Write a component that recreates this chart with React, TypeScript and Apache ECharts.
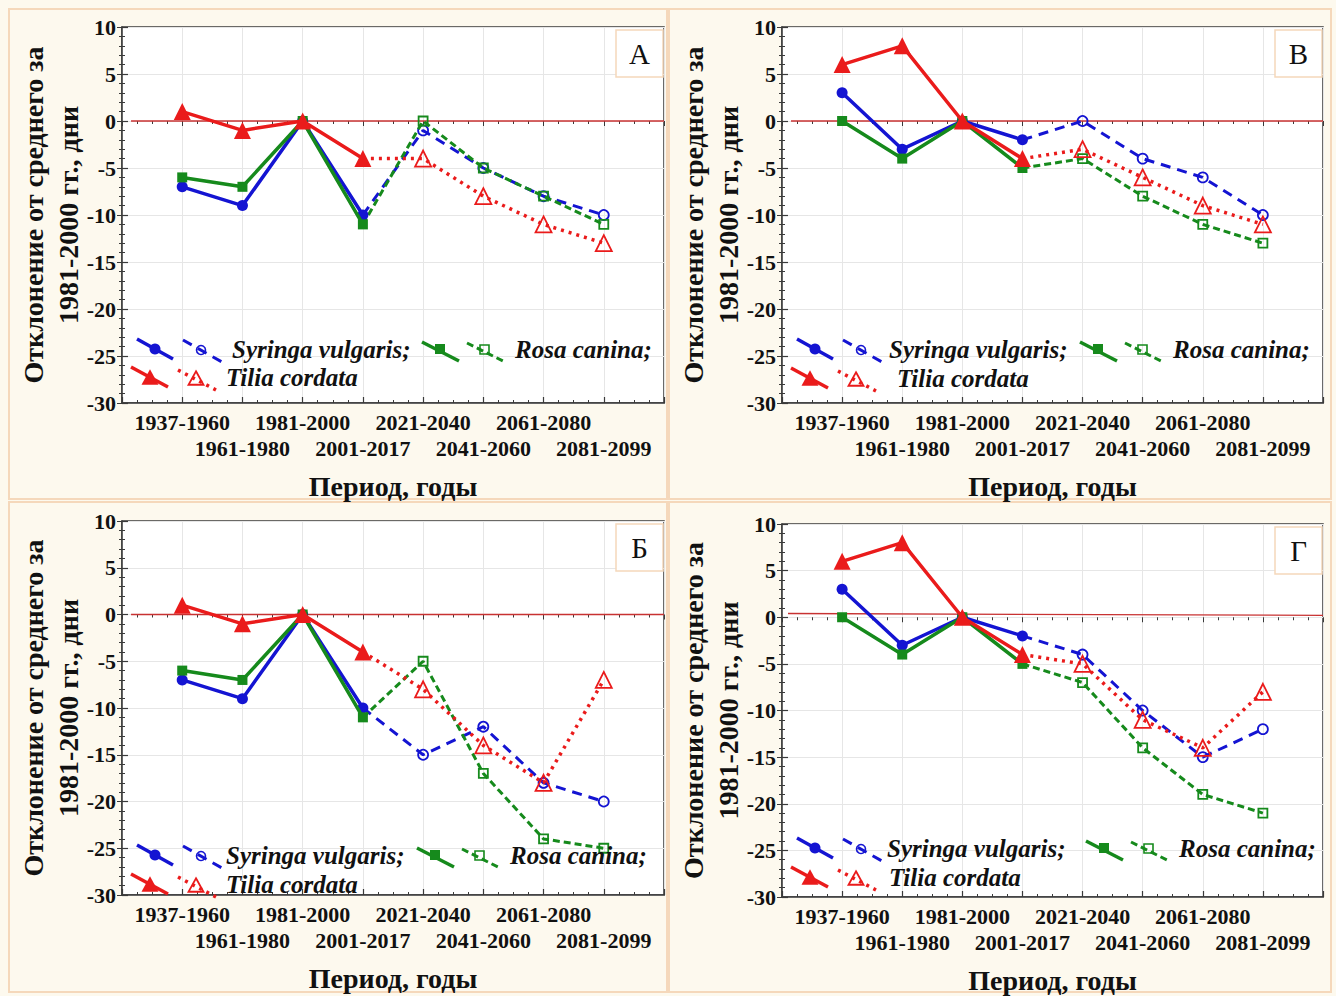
import React, { useEffect, useRef } from "react";
import * as echarts from "echarts";

// Periods along the horizontal axis
const periods = [
  "1937-1960",
  "1961-1980",
  "1981-2000",
  "2001-2017",
  "2021-2040",
  "2041-2060",
  "2061-2080",
  "2081-2099",
];

const yTicks = [-30, -25, -20, -15, -10, -5, 0, 5, 10];

// Deviation from the 1981-2000 mean, days (panel А)
const syringaA = [-7, -9, 0, -10, -1, -5, -8, -10];
const rosaA = [-6, -7, 0, -11, 0, -5, -8, -11];
const tiliaA = [1, -1, 0, -4, -4, -8, -11, -13];

// Panel В
const syringaB = [3, -3, 0, -2, 0, -4, -6, -10];
const rosaB = [0, -4, 0, -5, -4, -8, -11, -13];
const tiliaB = [6, 8, 0, -4, -3, -6, -9, -11];

// Panel Б
const syringaBe = [-7, -9, 0, -10, -15, -12, -18, -20];
const rosaBe = [-6, -7, 0, -11, -5, -17, -24, -25];
const tiliaBe = [1, -1, 0, -4, -8, -14, -18, -7];

// Panel Г
const syringaG = [3, -3, 0, -2, -4, -10, -15, -12];
const rosaG = [0, -4, 0, -5, -7, -14, -19, -21];
const tiliaG = [6, 8, 0, -4, -5, -11, -14, -8];

// Reference line (x, y) endpoints
const zeroFlat = [
  [0.15, 0],
  [9, 0],
];
const zeroTilted = [
  [0.1, 0.4],
  [9, 0.2],
];

const FONT = '"Liberation Serif", "Times New Roman", serif';
const BLUE = "#1414d2";
const GREEN = "#168a1c";
const RED = "#ea1b1b";
const AXIS = "#3a3a3a";
const BORDER = "#f5d8bb";

const species = [
  { key: "s", color: BLUE, symbol: "circle", size: 11, openSize: 10, dash: [10, 7], dashWidth: 3 },
  { key: "r", color: GREEN, symbol: "rect", size: 10, openSize: 9, dash: [7, 4], dashWidth: 3 },
  { key: "t", color: RED, symbol: "triangle", size: 17, openSize: 16, dash: [3, 5], dashWidth: 3.5 },
];

const panels = [
  {
    letter: "А",
    left: 122, top: 27, width: 542, height: 376,
    data: { s: syringaA, r: rosaA, t: tiliaA },
    zero: zeroFlat,
    leg: { dy1: 322, dy2: 350, sx: 110, rx: 393, tx: 104 },
    frame: { x: 9, y: 9, w: 658, h: 490 },
  },
  {
    letter: "В",
    left: 782, top: 27, width: 541, height: 376,
    data: { s: syringaB, r: rosaB, t: tiliaB },
    zero: zeroFlat,
    leg: { dy1: 322, dy2: 351, sx: 107, rx: 391, tx: 115 },
    frame: { x: 669, y: 9, w: 662, h: 490 },
  },
  {
    letter: "Б",
    left: 122, top: 521, width: 542, height: 374,
    data: { s: syringaBe, r: rosaBe, t: tiliaBe },
    zero: zeroFlat,
    leg: { dy1: 334, dy2: 363, sx: 104, rx: 388, tx: 104 },
    frame: { x: 9, y: 502, w: 658, h: 490 },
  },
  {
    letter: "Г",
    left: 782, top: 524, width: 541, height: 373,
    data: { s: syringaG, r: rosaG, t: tiliaG },
    zero: zeroTilted,
    leg: { dy1: 324, dy2: 353, sx: 105, rx: 397, tx: 107 },
    frame: { x: 669, y: 502, w: 662, h: 490 },
  },
];

function triangle(cx: number, cy: number, s: number) {
  const h = s * 0.9;
  return [
    [cx, cy - h / 2],
    [cx + s / 2, cy + h / 2],
    [cx - s / 2, cy + h / 2],
  ];
}

function legendGraphics(p: any) {
  const L = p.left;
  const y1 = p.top + p.leg.dy1;
  const y2 = p.top + p.leg.dy2;
  const textFont = `italic bold 25px ${FONT}`;
  const z = 50;
  const seg = (x1: number, ya: number, x2: number, yb: number, color: string, w: number, dash?: number[]) => ({
    type: "line",
    z,
    shape: { x1, y1: ya, x2, y2: yb },
    style: { stroke: color, lineWidth: w, lineDash: dash || null },
  });
  return [
    // Syringa vulgaris
    seg(L + 15, y1 - 10, L + 51, y1 + 10, BLUE, 3.5),
    { type: "circle", z: z + 1, shape: { cx: L + 33, cy: y1, r: 5.5 }, style: { fill: BLUE } },
    seg(L + 61, y1 - 9, L + 100, y1 + 13, BLUE, 3, [10, 7]),
    { type: "circle", z: z + 1, shape: { cx: L + 79, cy: y1 + 1, r: 4.5 }, style: { fill: "none", stroke: BLUE, lineWidth: 1.6 } },
    { type: "text", z, x: L + p.leg.sx, y: y1, style: { text: "Syringa vulgaris;", font: textFont, fill: "#111", verticalAlign: "middle" } },
    // Rosa canina
    seg(L + p.leg.rx - 93, y1 - 7, L + p.leg.rx - 56, y1 + 12, GREEN, 3.5),
    { type: "rect", z: z + 1, shape: { x: L + p.leg.rx - 80, y: y1 - 5, width: 10, height: 10 }, style: { fill: GREEN } },
    seg(L + p.leg.rx - 48, y1 - 6, L + p.leg.rx - 10, y1 + 13, GREEN, 3, [7, 4]),
    { type: "rect", z: z + 1, shape: { x: L + p.leg.rx - 35, y: y1 - 4, width: 9, height: 9 }, style: { fill: "none", stroke: GREEN, lineWidth: 1.6 } },
    { type: "text", z, x: L + p.leg.rx, y: y1, style: { text: "Rosa canina;", font: textFont, fill: "#111", verticalAlign: "middle" } },
    // Tilia cordata
    seg(L + 9, y2 - 10, L + 46, y2 + 10, RED, 3.5),
    { type: "polygon", z: z + 1, shape: { points: triangle(L + 28, y2, 17) }, style: { fill: RED } },
    seg(L + 56, y2 - 7, L + 94, y2 + 13, RED, 3.5, [3, 5]),
    { type: "polygon", z: z + 1, shape: { points: triangle(L + 74, y2 + 1, 15) }, style: { fill: "none", stroke: RED, lineWidth: 1.8 } },
    { type: "text", z, x: L + p.leg.tx, y: y2, style: { text: "Tilia cordata", font: textFont, fill: "#111", verticalAlign: "middle" } },
  ];
}

function buildOption() {
  const grid: any[] = [];
  const xAxis: any[] = [];
  const yAxis: any[] = [];
  const series: any[] = [];
  const graphic: any[] = [];

  panels.forEach((p, k) => {
    grid.push({
      left: p.left,
      top: p.top,
      width: p.width,
      height: p.height,
      show: true,
      backgroundColor: "#ffffff",
      borderColor: AXIS,
      borderWidth: 1.5,
    });

    const xLabel = (v: number) => {
      const i = Math.round(v) - 1;
      if (i < 0 || i >= periods.length) return "";
      return i % 2 === 0 ? `{a|${periods[i]}}` : `{b|${periods[i]}}`;
    };
    const labelRich = {
      a: { fontFamily: FONT, fontWeight: "bold", fontSize: 22, color: "#111" },
      b: { fontFamily: FONT, fontWeight: "bold", fontSize: 22, color: "#111", padding: [26, 0, 0, 0] },
    };

    xAxis.push({
      type: "value",
      gridIndex: k,
      position: "bottom",
      min: 0,
      max: 9,
      interval: 1,
      axisLine: { show: true, onZero: false, lineStyle: { color: AXIS, width: 1.5 } },
      axisTick: { show: true, inside: true, length: 6, lineStyle: { color: AXIS, width: 1.2 } },
      minorTick: { show: true, splitNumber: 4, length: 3, lineStyle: { color: AXIS, width: 1 } },
      splitLine: { show: true, lineStyle: { color: "#e6e6e6", width: 1 } },
      axisLabel: { formatter: xLabel, margin: 8, rich: labelRich, showMinLabel: true, showMaxLabel: true },
    });
    xAxis.push({
      type: "value",
      gridIndex: k,
      position: "top",
      min: 0,
      max: 9,
      interval: 1,
      axisLine: { show: false },
      axisTick: { show: true, inside: true, length: 5, lineStyle: { color: AXIS, width: 1 } },
      minorTick: { show: true, splitNumber: 4, length: 3, lineStyle: { color: AXIS, width: 1 } },
      splitLine: { show: false },
      axisLabel: { show: false },
    });

    yAxis.push({
      type: "value",
      gridIndex: k,
      position: "left",
      min: yTicks[0],
      max: yTicks[yTicks.length - 1],
      interval: 5,
      axisLine: { show: true, onZero: false, lineStyle: { color: AXIS, width: 1.5 } },
      axisTick: { show: true, inside: true, length: 6, lineStyle: { color: AXIS, width: 1.2 } },
      minorTick: { show: true, splitNumber: 5, length: 3, lineStyle: { color: AXIS, width: 1 } },
      splitLine: { show: true, lineStyle: { color: "#e6e6e6", width: 1 } },
      axisLabel: {
        margin: 6,
        fontFamily: FONT,
        fontWeight: "bold",
        fontSize: 22,
        color: "#111",
        formatter: (v: number) => (yTicks.includes(v) ? String(v) : ""),
      },
    });
    yAxis.push({
      type: "value",
      gridIndex: k,
      position: "right",
      min: yTicks[0],
      max: yTicks[yTicks.length - 1],
      interval: 5,
      axisLine: { show: false },
      axisTick: { show: true, inside: true, length: 5, lineStyle: { color: AXIS, width: 1 } },
      minorTick: { show: true, splitNumber: 5, length: 3, lineStyle: { color: AXIS, width: 1 } },
      splitLine: { show: false },
      axisLabel: { show: false },
    });

    // thin reference line near zero
    series.push({
      type: "line",
      xAxisIndex: 2 * k,
      yAxisIndex: 2 * k,
      data: p.zero,
      symbol: "none",
      silent: true,
      z: 1,
      lineStyle: { color: "#c83232", width: 1.3 },
    });

    species.forEach((sp, si) => {
      const vals: number[] = (p.data as any)[sp.key];
      const pts = vals.map((v, i) => [i + 1, v]);
      // observed periods: solid line with filled markers
      series.push({
        type: "line",
        xAxisIndex: 2 * k,
        yAxisIndex: 2 * k,
        data: pts.slice(0, 4),
        symbol: sp.symbol,
        symbolSize: sp.size,
        z: 5 + si,
        itemStyle: { color: sp.color },
        lineStyle: { color: sp.color, width: 3.5 },
      });
      // projected periods: broken line with open markers
      series.push({
        type: "line",
        xAxisIndex: 2 * k,
        yAxisIndex: 2 * k,
        data: pts.slice(3).map((pt, i) => (i === 0 ? { value: pt, symbol: "none" } : pt)),
        symbol: sp.symbol,
        symbolSize: sp.openSize,
        z: 2 + si,
        itemStyle: { color: "rgba(255,255,255,0)", borderColor: sp.color, borderWidth: 1.8 },
        lineStyle: { color: sp.color, width: sp.dashWidth, type: sp.dash },
      });
    });

    // panel frame
    graphic.push({
      type: "rect",
      z: 0,
      silent: true,
      shape: { x: p.frame.x, y: p.frame.y, width: p.frame.w, height: p.frame.h },
      style: { fill: "none", stroke: BORDER, lineWidth: 2 },
    });

    // axis titles
    const titleFont = `bold 28px ${FONT}`;
    graphic.push({
      type: "text",
      z: 10,
      x: p.left - 89,
      y: p.top + p.height / 2,
      rotation: Math.PI / 2,
      style: { text: "Отклонение от среднего за", font: titleFont, fill: "#111", align: "center", verticalAlign: "middle" },
    });
    graphic.push({
      type: "text",
      z: 10,
      x: p.left - 54,
      y: p.top + p.height / 2,
      rotation: Math.PI / 2,
      style: { text: "1981-2000 гг., дни", font: titleFont, fill: "#111", align: "center", verticalAlign: "middle" },
    });
    graphic.push({
      type: "text",
      z: 10,
      x: p.left + p.width / 2,
      y: p.top + p.height + 83,
      style: { text: "Период, годы", font: titleFont, fill: "#111", align: "center", verticalAlign: "middle" },
    });

    // panel letter box
    graphic.push({
      type: "rect",
      z: 40,
      shape: { x: p.left + p.width - 48, y: p.top + 3, width: 47, height: 47 },
      style: { fill: "#ffffff", stroke: BORDER, lineWidth: 1.5 },
    });
    graphic.push({
      type: "text",
      z: 41,
      x: p.left + p.width - 24.5,
      y: p.top + 27,
      style: { text: p.letter, font: `29px ${FONT}`, fill: "#111", align: "center", verticalAlign: "middle" },
    });

    legendGraphics(p).forEach((g) => graphic.push(g));
  });

  return {
    animation: false,
    backgroundColor: "#fdf9ee",
    grid,
    xAxis,
    yAxis,
    series,
    graphic,
  };
}

export default function App() {
  const ref = useRef<HTMLDivElement>(null);
  useEffect(() => {
    if (!ref.current) return;
    const chart = echarts.init(ref.current, null, { renderer: "svg" });
    chart.setOption(buildOption() as any);
    return () => chart.dispose();
  }, []);
  return (
    <div
      ref={ref}
      style={{ position: "absolute", left: 0, top: 0, width: 1336, height: 996 }}
    />
  );
}
